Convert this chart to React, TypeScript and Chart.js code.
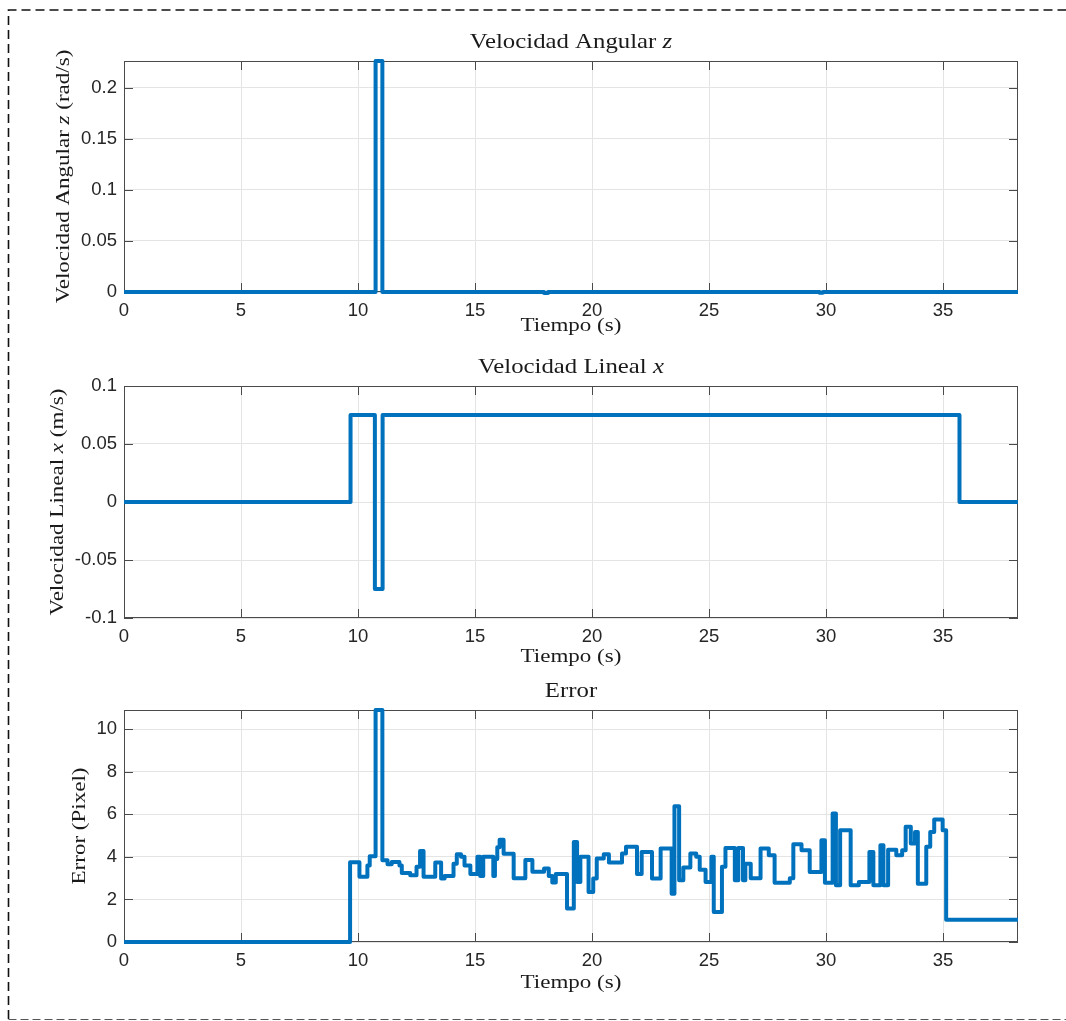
import React, { useEffect, useRef } from "react";
import { Chart, registerables } from "chart.js";

Chart.register(...registerables);

// ---------- data ----------
const X_TICKS = [0, 5, 10, 15, 20, 25, 30, 35];
const X_TICK_LABELS = ["0", "5", "10", "15", "20", "25", "30", "35"];
const X_MIN = 0;
const X_MAX = 38.2;

const angTime = [0, 10.75, 11.04, 17.95, 18.12, 29.72, 29.86, 38.2];
const angVel = [0, 0.226, 0, -0.0009, 0, -0.0007, 0, 0];
const ANG_TICKS = [0, 0.05, 0.1, 0.15, 0.2];
const ANG_TICK_LABELS = ["0", "0.05", "0.1", "0.15", "0.2"];

const linTime = [0, 9.68, 10.72, 11.05, 35.7, 38.2];
const linVel = [0, 0.075, -0.075, 0.075, 0, 0];
const LIN_TICKS = [-0.1, -0.05, 0, 0.05, 0.1];
const LIN_TICK_LABELS = ["-0.1", "-0.05", "0", "0.05", "0.1"];

const errTime = [
  0, 9.66, 10.06, 10.4, 10.5, 10.75, 11.04, 11.26, 11.44, 11.77, 11.87, 12.23,
  12.5, 12.65, 12.8, 13.3, 13.55, 13.7, 14.08, 14.22, 14.4, 14.55, 14.8, 15.1,
  15.22, 15.35, 15.78, 15.85, 15.95, 16.05, 16.22, 16.65, 17.15, 17.45, 17.95,
  18.15, 18.3, 18.45, 18.93, 19.22, 19.36, 19.5, 19.85, 20.05, 20.2, 20.5,
  20.72, 21.28, 21.45, 21.92, 22.12, 22.56, 22.93, 23.4, 23.52, 23.72, 23.9,
  24.2, 24.45, 24.6, 24.85, 25.1, 25.2, 25.55, 25.7, 26.1, 26.25, 26.45, 26.55,
  26.78, 27.2, 27.55, 27.8, 28.45, 28.6, 28.95, 29.3, 29.8, 29.95, 30.28, 30.42,
  30.6, 31.05, 31.4, 31.85, 32.02, 32.32, 32.45, 32.65, 33.0, 33.25, 33.4, 33.62,
  33.8, 33.92, 34.28, 34.45, 34.62, 34.98, 35.13, 38.2,
];
const errVal = [
  0, 3.75, 3.06, 3.6, 4.03, 10.9, 3.84, 3.65, 3.76, 3.6, 3.24, 3.14,
  3.53, 4.28, 3.06, 3.73, 2.98, 3.1, 3.68, 4.12, 4.0, 3.6, 3.2, 4.0,
  3.1, 4.0, 3.1, 3.9, 4.45, 4.8, 4.15, 3.0, 3.85, 3.3, 3.45,
  3.1, 2.8, 3.2, 1.57, 4.7, 2.82, 4.0, 2.35, 2.98, 3.92, 4.12,
  3.73, 4.16, 4.47, 3.2, 4.23, 2.98, 4.39, 2.27, 6.38, 2.9, 3.5,
  4.16, 4.0, 3.4, 2.82, 4.0, 1.41, 3.53, 4.42, 2.9, 4.42, 2.9, 3.68,
  3.0, 4.39, 4.08, 2.78, 3.0, 4.59, 4.31, 3.29, 4.78, 2.78, 6.04, 2.67,
  5.25, 2.67, 2.82, 4.23, 2.67, 4.55, 2.67, 4.34, 4.08, 4.31, 5.41, 4.63,
  5.17, 2.74, 4.47, 5.17, 5.75, 5.25, 1.05, 1.05,
];
const ERR_TICKS = [0, 2, 4, 6, 8, 10];
const ERR_TICK_LABELS = ["0", "2", "4", "6", "8", "10"];

const X_LABEL = "Tiempo (s)";

type Seg = { t: string; i?: boolean };

const PANELS = [
  {
    time: angTime, vals: angVel, yMin: 0, yMax: 0.226, ticks: ANG_TICKS, tickLabels: ANG_TICK_LABELS,
    title: [{ t: "Velocidad Angular " }, { t: "z", i: true }] as Seg[],
    yLabel: [{ t: "Velocidad Angular " }, { t: "z", i: true }, { t: " (rad/s)" }] as Seg[],
    plotTop: 61, plotH: 231, yLabelX: 64, xLabelOff: 38.5,
  },
  {
    time: linTime, vals: linVel, yMin: -0.1, yMax: 0.1, ticks: LIN_TICKS, tickLabels: LIN_TICK_LABELS,
    title: [{ t: "Velocidad Lineal " }, { t: "x", i: true }] as Seg[],
    yLabel: [{ t: "Velocidad Lineal " }, { t: "x", i: true }, { t: " (m/s)" }] as Seg[],
    plotTop: 386, plotH: 232, yLabelX: 57.5, xLabelOff: 44,
  },
  {
    time: errTime, vals: errVal, yMin: 0, yMax: 10.9, ticks: ERR_TICKS, tickLabels: ERR_TICK_LABELS,
    title: [{ t: "Error" }] as Seg[],
    yLabel: [{ t: "Error (Pixel)" }] as Seg[],
    plotTop: 710, plotH: 232, yLabelX: 80, xLabelOff: 46,
  },
];

const PAD_TOP = 40;
const X_AXIS_H = 64;
const CANVAS_W = 1066;
const SERIF = "'Liberation Serif', 'Times New Roman', serif";
const SANS = "'Liberation Sans', Arial, sans-serif";
const SX = 1.18;

function segFont(s: Seg, size: number) {
  return `${s.i ? "italic " : ""}${size}px ${SERIF}`;
}

function drawSegs(ctx: CanvasRenderingContext2D, segs: Seg[], size: number, cx: number, cy: number, rotate: boolean, baseline: CanvasTextBaseline) {
  const widths = segs.map((s) => {
    ctx.font = segFont(s, size);
    return ctx.measureText(s.t).width;
  });
  const total = widths.reduce((a, b) => a + b, 0);
  ctx.save();
  ctx.translate(cx, cy);
  if (rotate) ctx.rotate(-Math.PI / 2);
  ctx.scale(SX, 1);
  ctx.textBaseline = baseline;
  ctx.textAlign = "left";
  ctx.fillStyle = "#1a1a1a";
  let x = -total / 2;
  segs.forEach((s, k) => {
    ctx.font = segFont(s, size);
    ctx.fillText(s.t, x, 0);
    x += widths[k];
  });
  ctx.restore();
}

function PanelChart({ p }: { p: (typeof PANELS)[number] }) {
  const ref = useRef<HTMLCanvasElement | null>(null);
  useEffect(() => {
    const canvas = ref.current;
    if (!canvas) return;
    const boxPlugin = {
      id: "matlabBox",
      beforeDatasetsDraw(chart: any) {
        const { ctx, chartArea } = chart;
        const { left, right, top, bottom } = chartArea;
        const xs = chart.scales.x;
        const ys = chart.scales.y;
        ctx.save();
        ctx.strokeStyle = "#4a4a4a";
        ctx.lineWidth = 1;
        ctx.strokeRect(left + 0.5, top + 0.5, right - left - 1, bottom - top - 1);
        ctx.beginPath();
        const TL = 9;
        X_TICKS.forEach((v) => {
          const px = Math.round(xs.getPixelForValue(v)) + 0.5;
          ctx.moveTo(px, bottom);
          ctx.lineTo(px, bottom - TL);
          ctx.moveTo(px, top);
          ctx.lineTo(px, top + TL);
        });
        p.ticks.forEach((v) => {
          const py = Math.round(ys.getPixelForValue(v)) + 0.5;
          ctx.moveTo(left, py);
          ctx.lineTo(left + TL, py);
          ctx.moveTo(right, py);
          ctx.lineTo(right - TL, py);
        });
        ctx.stroke();
        ctx.restore();
      },
      afterDraw(chart: any) {
        const { ctx, chartArea } = chart;
        const { left, right, top, bottom } = chartArea;
        const cx = (left + right) / 2;
        drawSegs(ctx, p.title, 21, cx, top - 13, false, "alphabetic");
        drawSegs(ctx, [{ t: X_LABEL }], 19.5, cx, bottom + p.xLabelOff, false, "alphabetic");
        drawSegs(ctx, p.yLabel, 19.5, p.yLabelX, (top + bottom) / 2, true, "middle");
      },
    };

    const chart = new Chart(canvas, {
      type: "line",
      data: {
        datasets: [
          {
            data: p.time.map((t, k) => ({ x: t, y: p.vals[k] })),
            borderColor: "#0072BD",
            borderWidth: 4,
            pointRadius: 0,
            stepped: true,
            fill: false,
            borderJoinStyle: "round",
            clip: 4,
          } as any,
        ],
      },
      options: {
        animation: false,
        responsive: false,
        devicePixelRatio: 1,
        events: [],
        layout: { padding: { left: 0, right: 48, top: PAD_TOP, bottom: 0 } },
        plugins: { legend: { display: false }, tooltip: { enabled: false }, title: { display: false } },
        scales: {
          x: {
            type: "linear",
            min: X_MIN,
            max: X_MAX,
            bounds: "data",
            afterBuildTicks: (s: any) => {
              s.ticks = X_TICKS.map((v) => ({ value: v }));
            },
            afterFit: (s: any) => {
              s.height = X_AXIS_H;
            },
            grid: { color: "#e4e4e4", lineWidth: 1, drawTicks: false },
            border: { display: false },
            ticks: {
              padding: 8,
              color: "#262626",
              font: { family: SANS, size: 18.5 },
              maxRotation: 0,
              minRotation: 0,
              autoSkip: false,
              callback: (_v: any, i: number) => X_TICK_LABELS[i],
            },
          },
          y: {
            type: "linear",
            min: p.yMin,
            max: p.yMax,
            bounds: "data",
            afterBuildTicks: (s: any) => {
              s.ticks = p.ticks.map((v) => ({ value: v }));
            },
            afterFit: (s: any) => {
              s.width = 124;
            },
            grid: { color: "#e4e4e4", lineWidth: 1, drawTicks: false },
            border: { display: false },
            ticks: {
              padding: 7,
              color: "#262626",
              font: { family: SANS, size: 18.5 },
              autoSkip: false,
              callback: (_v: any, i: number) => p.tickLabels[i],
            },
          },
        },
      } as any,
      plugins: [boxPlugin],
    });
    return () => chart.destroy();
  }, [p]);
  const h = PAD_TOP + p.plotH + X_AXIS_H;
  return (
    <canvas
      ref={ref}
      width={CANVAS_W}
      height={h}
      style={{ position: "absolute", left: 0, top: p.plotTop - PAD_TOP, width: CANVAS_W, height: h, display: "block" }}
    />
  );
}

export default function App() {
  return (
    <div style={{ position: "absolute", left: 0, top: 0, width: 1066, height: 1021, background: "#fff", overflow: "hidden" }}>
      <svg width={1066} height={1021} style={{ position: "absolute", left: 0, top: 0 }}>
        <path d="M8.5 1019 V10 H1066" fill="none" stroke="#111" strokeWidth={1.6} strokeDasharray="9 5" />
        <path d="M8.5 1019.5 H1066" fill="none" stroke="#555" strokeWidth={1.2} strokeDasharray="8 4" />
      </svg>
      {PANELS.map((p, k) => (
        <PanelChart key={k} p={p} />
      ))}
    </div>
  );
}
